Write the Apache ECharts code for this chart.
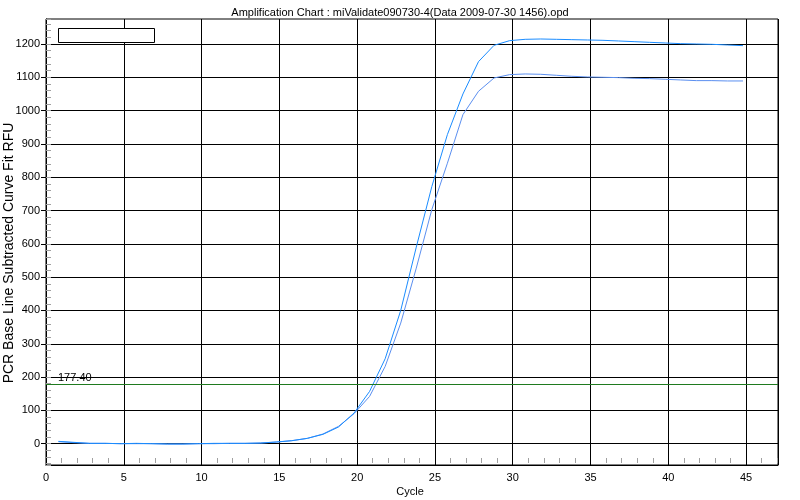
<!DOCTYPE html>
<html><head><meta charset="utf-8">
<script src="https://cdn.jsdelivr.net/npm/echarts@6/dist/echarts.min.js"></script>
<style>html,body{margin:0;padding:0;background:#fff}#c{width:800px;height:500px}</style>
</head><body><div id="c"></div>
<script>
const titleText = 'Amplification Chart : miValidate090730-4(Data 2009-07-30 1456).opd';
const xName = 'Cycle';
const yName = 'PCR Base Line Subtracted Curve Fit RFU';
const cycles = [0.8,1.8,2.8,3.8,4.8,5.8,6.8,7.8,8.8,9.8,10.8,11.8,12.8,13.8,14.8,15.8,16.8,17.8,18.8,19.8,20.8,21.8,22.8,23.8,24.8,25.8,26.8,27.8,28.8,29.8,30.8,31.8,32.8,33.8,34.8,35.8,36.8,37.8,38.8,39.8,40.8,41.8,42.8,43.8,44.8];
const wellUpper = [7,4,1,1,0,1,0,-1,-1,0,1,1,1,2,5,9,16,28,50,92,157,255,400,590,772,928,1050,1147,1196,1210,1214,1215,1214,1213,1212,1211,1209,1207,1205,1203,1201,1200,1199,1197,1195];
const wellLower = [6,3,1,1,0,0,0,-1,-1,0,0,1,1,2,5,9,16,29,52,90,142,232,362,527,703,842,988,1058,1098,1108,1110,1109,1106,1103,1101,1100,1099,1097,1096,1094,1092,1090,1090,1089,1089];
const xMajorTicks = [0,5,10,15,20,25,30,35,40,45];
const yMajorTicks = [0,100,200,300,400,500,600,700,800,900,1000,1100,1200];
const threshold = 177.4;
const thresholdLabel = '177.40';
const xMin = 0, xMax = 47.05, yMin = -64, yMax = 1275;

const xMinorTicks = [];
for (let v = 1; v < xMax; v++) if (v % 5 !== 0) xMinorTicks.push(v);

const FONT = '"Liberation Sans", Arial, sans-serif';
const chart = echarts.init(document.getElementById('c'), null, {renderer: 'canvas'});
chart.setOption({
  animation: false,
  backgroundColor: '#fff',
  textStyle: {fontFamily: FONT},
  title: {text: titleText, left: 'center', top: 2,
    textStyle: {fontSize: 11, fontWeight: 'normal', color: '#000', fontFamily: FONT}},
  grid: {left: 46, right: 22, top: 19, bottom: 35, show: true, borderColor: '#000', borderWidth: 1, outerBoundsMode: 'none', containLabel: false},
  xAxis: [{
    type: 'value', min: xMin, max: xMax, interval: 5,
    axisLine: {show: true, onZero: false, lineStyle: {color: '#000', width: 1}},
    axisTick: {show: false},
    axisLabel: {customValues: xMajorTicks, color: '#000', fontSize: 11, margin: 7, fontFamily: FONT},
    splitLine: {show: true, lineStyle: {color: '#000', width: 1}}
  }, {
    type: 'value', min: xMin, max: xMax, interval: 1, position: 'bottom', offset: -2,
    axisLine: {show: false, onZero: false},
    axisTick: {show: true, inside: true, length: 5, customValues: xMinorTicks, lineStyle: {color: '#a0a0a0'}},
    axisLabel: {show: false},
    splitLine: {show: false}
  }],
  yAxis: [{
    type: 'value', min: yMin, max: yMax, splitNumber: 13,
    axisLine: {show: true, onZero: false, lineStyle: {color: '#000', width: 1}},
    axisTick: {show: true, length: 5, customValues: yMajorTicks, lineStyle: {color: '#000'}},
    axisLabel: {customValues: yMajorTicks, color: '#000', fontSize: 11, margin: 6, fontFamily: FONT, formatter: v => String(v)},
    splitLine: {show: true, lineStyle: {color: '#000', width: 1}}
  }, {
    type: 'value', min: yMin, max: yMax, splitNumber: 67, position: 'left', offset: 0,
    axisLine: {show: false, onZero: false},
    axisTick: {show: true, inside: true, length: 5, lineStyle: {color: '#a0a0a0', width: 1}},
    axisLabel: {show: false},
    splitLine: {show: false}
  }],
  series: [{
    type: 'line', name: 'B', xAxisIndex: 0, yAxisIndex: 0,
    data: cycles.map((c, i) => [c, wellLower[i]]),
    showSymbol: false, symbol: 'none', silent: true,
    lineStyle: {color: '#5b8ff0', width: 1}
  }, {
    type: 'line', name: 'A', xAxisIndex: 0, yAxisIndex: 0,
    data: cycles.map((c, i) => [c, wellUpper[i]]),
    showSymbol: false, symbol: 'none', silent: true,
    lineStyle: {color: '#1a8cff', width: 1},
    markLine: {
      silent: true, symbol: 'none', animation: false,
      lineStyle: {color: '#1f7a1f', width: 1, type: 'solid'},
      label: {show: true, position: 'insideStartTop', formatter: thresholdLabel, color: '#000', fontSize: 11, fontFamily: FONT, distance: [12, 1]},
      emphasis: {disabled: true},
      data: [{yAxis: threshold}]
    }
  }, {
    type: 'line', name: 'axisHolder', xAxisIndex: 1, yAxisIndex: 1, data: [], silent: true, showSymbol: false
  }],
  graphic: [
    {type: 'rect', left: 58, top: 28, shape: {width: 96, height: 14}, style: {fill: '#fff', stroke: '#000', lineWidth: 1}, z: 100},
    {type: 'text', x: 9, y: 253, rotation: Math.PI / 2,
      style: {text: yName, fontSize: 14, fontFamily: FONT, fill: '#000', align: 'center', verticalAlign: 'middle'}, z: 100},
    {type: 'text', x: 410, y: 492,
      style: {text: xName, fontSize: 11, fontFamily: FONT, fill: '#000', align: 'center', verticalAlign: 'middle'}, z: 100}
  ]
});
</script></body></html>
